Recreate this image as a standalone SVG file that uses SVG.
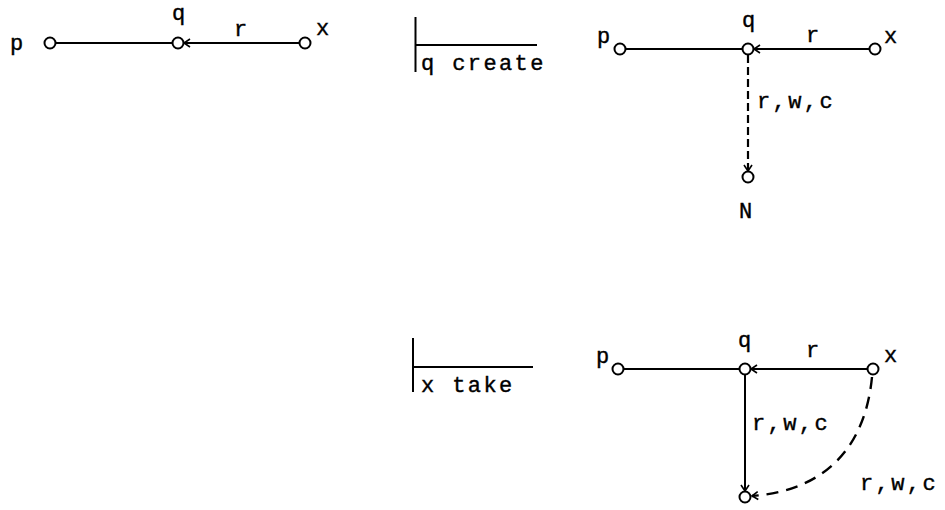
<svg xmlns="http://www.w3.org/2000/svg" width="945" height="510" viewBox="0 0 945 510">
<defs>
<style>
text{font-family:"Liberation Mono","DejaVu Sans Mono",monospace;font-size:22px;fill:#000;stroke:#000;stroke-width:0.4px;letter-spacing:2.4px}
.n{fill:#fff;stroke:#000;stroke-width:2}
.e{fill:none;stroke:#000;stroke-width:2}
.d{fill:none;stroke:#000;stroke-width:2.2;stroke-dasharray:8 4}
.d2{fill:none;stroke:#000;stroke-width:2.4;stroke-dasharray:12 8}
</style>
<marker id="ah" viewBox="-8 -5 10 10" markerWidth="10" markerHeight="10" refX="0" refY="0" orient="auto" markerUnits="userSpaceOnUse">
<path d="M-6,-4 L0,0 L-6,4" fill="none" stroke="#000" stroke-width="1.6"/>
</marker>
</defs>
<g id="connectors">
<line class="e" x1="56" y1="43" x2="172" y2="43"/>
<line class="e" x1="299" y1="43" x2="184" y2="43" marker-end="url(#ah)"/>
<line class="e" x1="415.5" y1="17" x2="415.5" y2="72"/>
<line class="e" x1="415" y1="45" x2="537" y2="45"/>
<line class="e" x1="626" y1="49" x2="742" y2="49"/>
<line class="e" x1="869" y1="49" x2="754" y2="49" marker-end="url(#ah)"/>
<line class="d" x1="748" y1="55" x2="748" y2="171" marker-end="url(#ah)"/>
<line class="e" x1="413" y1="338" x2="413" y2="392"/>
<line class="e" x1="413" y1="367" x2="533" y2="367"/>
<line class="e" x1="624" y1="369" x2="739" y2="369"/>
<line class="e" x1="867" y1="369" x2="751" y2="369" marker-end="url(#ah)"/>
<line class="e" x1="745" y1="375" x2="745" y2="491" marker-end="url(#ah)"/>
<path class="d2" d="M872,377 C866,440 832,490 752,496" marker-end="url(#ah)"/>
</g>
<g id="p1"><circle class="n" cx="50" cy="43" r="5.5"/><text x="10" y="50">p</text></g>
<g id="q1"><circle class="n" cx="178" cy="43" r="5.5"/><text x="172" y="20">q</text></g>
<g id="x1"><circle class="n" cx="305" cy="43" r="5.5"/><text x="316" y="35">x</text></g>
<text x="234" y="36">r</text>
<text x="421" y="70">q create</text>
<g id="p2"><circle class="n" cx="620" cy="49" r="5.5"/><text x="597" y="43">p</text></g>
<g id="q2"><circle class="n" cx="748" cy="49" r="5.5"/><text x="742" y="27">q</text></g>
<g id="x2"><circle class="n" cx="875" cy="49" r="5.5"/><text x="884" y="43">x</text></g>
<g id="N2"><circle class="n" cx="748" cy="177" r="5.5"/><text x="739" y="218">N</text></g>
<text x="806" y="42">r</text>
<text x="757" y="108">r,w,c</text>
<text x="421" y="392">x take</text>
<g id="p3"><circle class="n" cx="618" cy="369" r="5.5"/><text x="596" y="363">p</text></g>
<g id="q3"><circle class="n" cx="745" cy="369" r="5.5"/><text x="738" y="347">q</text></g>
<g id="x3"><circle class="n" cx="873" cy="369" r="5.5"/><text x="884" y="362">x</text></g>
<g id="n3"><circle class="n" cx="745" cy="497" r="5.5"/></g>
<text x="806" y="357">r</text>
<text x="752" y="430">r,w,c</text>
<text x="860" y="490">r,w,c</text>
</svg>
